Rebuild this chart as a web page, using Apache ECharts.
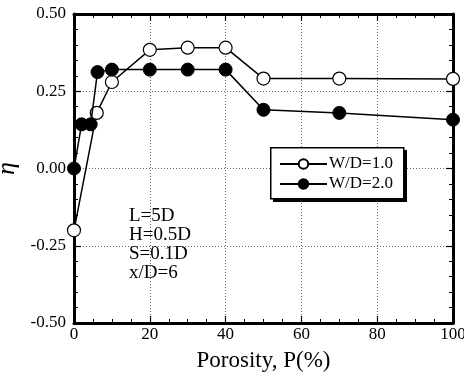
<!DOCTYPE html>
<html>
<head>
<meta charset="utf-8">
<script src="https://cdn.jsdelivr.net/npm/echarts@6/dist/echarts.min.js"></script>
<style>
  html, body { margin: 0; padding: 0; background: #fff; }
  #chart { width: 464px; height: 376px; }
</style>
</head>
<body>
<div id="chart"></div>
<script>
// porosity P(%) and eta for each W/D
const wd1P = [0, 6, 10, 20, 30, 40, 50, 70, 100]
const wd1Eta = [-0.20, 0.18, 0.28, 0.384, 0.391, 0.391, 0.291, 0.291, 0.29]
const wd2P = [0, 2, 4.4, 6.2, 10, 20, 30, 40, 50, 70, 100]
const wd2Eta = [0.0, 0.143, 0.143, 0.312, 0.32, 0.32, 0.32, 0.32, 0.19, 0.18, 0.158]
const seriesNames = ['W/D=1.0', 'W/D=2.0']
const notes = ['L=5D', 'H=0.5D', 'S=0.1D', 'x/D=6']

const serif = '"Liberation Serif", "DejaVu Serif", serif'
const chart = echarts.init(document.getElementById('chart'))

const zip = (xs, ys) => xs.map((x, i) => [x, ys[i]])

const baseX = {
    type: 'value', min: 0, max: 100, interval: 20,
    axisLine: {show: true, onZero: false, lineStyle: {color: '#000', width: 3}},
    axisTick: {show: true, inside: true, length: 7, lineStyle: {color: '#000', width: 1.2}},
    minorTick: {show: true, splitNumber: 4, length: 4, lineStyle: {color: '#000', width: 1}},
}
const baseY = {
    type: 'value', min: -0.5, max: 0.5, interval: 0.25,
    axisLine: {show: true, onZero: false, lineStyle: {color: '#000', width: 3}},
    axisTick: {show: true, inside: true, length: 7, lineStyle: {color: '#000', width: 1.2}},
    minorTick: {show: true, splitNumber: 5, length: 4, lineStyle: {color: '#000', width: 1}},
}

chart.setOption({
    animation: false,
    backgroundColor: '#fff',
    grid: {left: 74, right: 11, top: 14, bottom: 53, outerBoundsMode: 'none', containLabel: false},
    legend: {
        left: 279, top: 155, z: 20,
        orient: 'vertical',
        itemWidth: 47, itemHeight: 12, itemGap: 2,
        padding: 0,
        textStyle: {fontFamily: serif, fontSize: 17, lineHeight: 18, color: '#000', padding: [0, 0, 0, -3]},
        data: seriesNames,
    },
    xAxis: [
        Object.assign({}, baseX, {
            position: 'bottom',
            name: 'Porosity, P(%)',
            nameLocation: 'middle', nameGap: 26,
            nameTextStyle: {fontFamily: serif, fontSize: 23, color: '#000'},
            axisLabel: {fontFamily: serif, fontSize: 17, color: '#000', margin: 3},
            splitLine: {show: true, lineStyle: {color: '#666', type: [1, 2], width: 1}},
        }),
        Object.assign({}, baseX, {position: 'top', axisLabel: {show: false}, splitLine: {show: false}}),
    ],
    yAxis: [
        Object.assign({}, baseY, {
            position: 'left',
            name: 'η',
            nameLocation: 'middle', nameGap: 45, nameRotate: 90,
            nameTextStyle: {fontFamily: serif, fontSize: 26, fontStyle: 'italic', color: '#000'},
            axisLabel: {fontFamily: serif, fontSize: 17, color: '#000', margin: 8,
                formatter: v => v.toFixed(2)},
            splitLine: {show: true, lineStyle: {color: '#666', type: [1, 2], width: 1}},
        }),
        Object.assign({}, baseY, {position: 'right', axisLabel: {show: false}, splitLine: {show: false}}),
    ],
    series: [
        {
            name: seriesNames[0], type: 'line',
            data: zip(wd1P, wd1Eta),
            symbol: 'circle', symbolSize: 13,
            lineStyle: {color: '#000', width: 1.5},
            itemStyle: {color: '#fff', borderColor: '#000', borderWidth: 1.2},
            z: 3,
        },
        {
            name: seriesNames[1], type: 'line',
            data: zip(wd2P, wd2Eta),
            symbol: 'circle', symbolSize: 13,
            lineStyle: {color: '#000', width: 1.5},
            itemStyle: {color: '#000', borderColor: '#000', borderWidth: 1},
            z: 4,
        },
    ],
    graphic: [
        // legend frame with heavy drop edge
        {type: 'rect', left: 273, top: 150, z: 5,
            shape: {width: 134, height: 52}, style: {fill: '#000'}},
        {type: 'rect', left: 270, top: 147, z: 6,
            shape: {width: 133, height: 51}, style: {fill: '#fff', stroke: '#000', lineWidth: 1.5}},
    ].concat(notes.map((t, i) => ({
        type: 'text', left: 129, top: 207 + i * 19, z: 6,
        style: {text: t, font: '19px ' + serif, fill: '#000'},
    }))),
})
</script>
</body>
</html>
